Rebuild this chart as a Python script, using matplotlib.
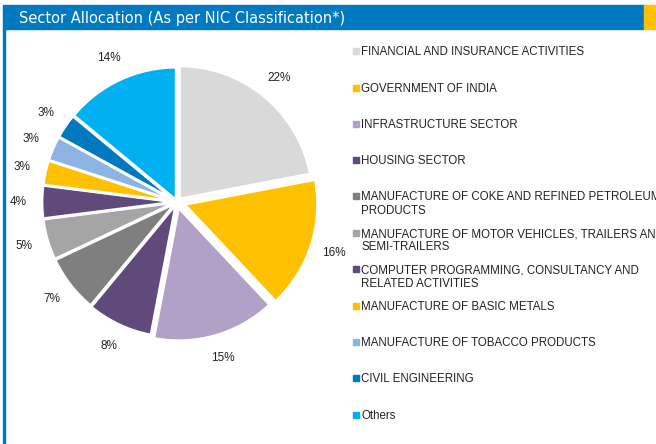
import matplotlib
matplotlib.use('Agg')
import numpy as np
import matplotlib.pyplot as plt
from matplotlib.patches import Rectangle

sectors = ['FINANCIAL AND INSURANCE ACTIVITIES',
           'GOVERNMENT OF INDIA',
           'INFRASTRUCTURE SECTOR',
           'HOUSING SECTOR',
           'MANUFACTURE OF COKE AND REFINED PETROLEUM\nPRODUCTS',
           'MANUFACTURE OF MOTOR VEHICLES, TRAILERS AND\nSEMI-TRAILERS',
           'COMPUTER PROGRAMMING, CONSULTANCY AND\nRELATED ACTIVITIES',
           'MANUFACTURE OF BASIC METALS',
           'MANUFACTURE OF TOBACCO PRODUCTS',
           'CIVIL ENGINEERING',
           'Others']
shares = [22, 16, 15, 8, 7, 5, 4, 3, 3, 3, 14]
colours = ['#D9D9D9', '#FFC000', '#B2A1C7', '#604A7B', '#7F7F7F', '#A5A5A5',
           '#604A7B', '#FFC000', '#8DB3E2', '#0079C1', '#00B0F0']
title = 'Sector Allocation (As per NIC Classification*)'

plt.rcParams['font.family'] = ['Liberation Sans', 'DejaVu Sans']

W, H = 656, 444
fig = plt.figure(figsize=(W / 100, H / 100), dpi=100)

# header band + left border
fig.patches.append(Rectangle((3 / W, 1 - 29 / H), 641 / W, 24 / H, transform=fig.transFigure,
                             color='#0079C1', zorder=0))
fig.patches.append(Rectangle((644 / W, 1 - 29 / H), 12 / W, 24 / H, transform=fig.transFigure,
                             color='#FFC000', zorder=0))
fig.patches.append(Rectangle((3 / W, 0), 1.6 / W, 1 - 29 / H, transform=fig.transFigure,
                             color='#0079C1', zorder=0))
fig.text(19 / W, 1 - 22.5 / H, title, color='white', fontsize=10.5, va='baseline',
         family=['DejaVu Sans'])

# pie
cx, cy, r = 177, 202, 133
lim = 1.3
side = 2 * lim * r
ax = fig.add_axes([(cx - side / 2) / W, (H - cy - side / 2) / H, side / W, side / H])
explode = [0.03, 0.06, 0.045, 0.02, 0.015, 0.015, 0.015, 0.015, 0.015, 0.015, 0.015]
wedges, _ = ax.pie(shares, colors=colours, startangle=90, counterclock=False,
                   explode=explode,
                   wedgeprops=dict(edgecolor='white', linewidth=2))
for w, s in zip(wedges, shares):
    a = np.deg2rad((w.theta1 + w.theta2) / 2)
    x0, y0 = w.center
    ax.text(x0 + 1.18 * np.cos(a), y0 + 1.18 * np.sin(a), f'{s}%', ha='center', va='center',
            fontsize=8.5, color='#222222')
ax.set_xlim(-lim, lim)
ax.set_ylim(-lim, lim)
ax.set_aspect('equal')
ax.axis('off')

# legend
baselines = [55, 92, 128, 164, 200, 237, 273, 310, 346, 382, 419]
for name, c, y in zip(sectors, colours, baselines):
    fig.patches.append(Rectangle((353 / W, 1 - (y - 1) / H), 6 / W, 6 / H,
                                 transform=fig.transFigure, color=c))
    first, *rest = name.split('\n')
    fig.text(361 / W, 1 - y / H, first, fontsize=8.3, va='baseline', ha='left',
             color='#222222')
    for k, line in enumerate(rest, 1):
        fig.text(361 / W, 1 - (y + 13.5 * k) / H, line, fontsize=8.3, va='baseline',
                 ha='left', color='#222222')

fig.savefig('out.png', dpi=100)
